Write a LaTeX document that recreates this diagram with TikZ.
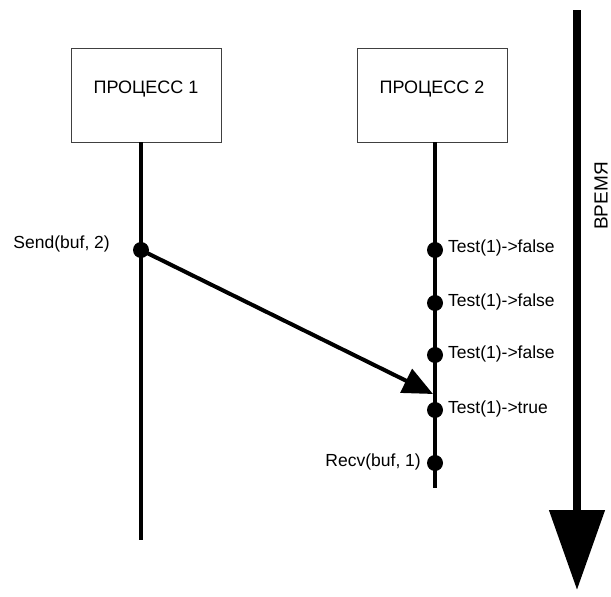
\documentclass[tikz,border=0pt]{standalone}
\usepackage{fontspec}
\setmainfont{Liberation Sans}
\usetikzlibrary{arrows.meta}
\tikzset{
  proc/.style={draw=black!75, line width=0.9pt, minimum width=150pt, minimum height=94pt,
    inner sep=0pt, text height=13pt, text depth=17pt, font=\fontsize{18}{21}\selectfont},
  life/.style={draw=black, line width=3.5pt},
  ev/.style={circle, fill=black, inner sep=0pt, minimum width=16pt, minimum height=16pt},
  msg/.style={draw=black, line width=4pt, -{Triangle[length=30pt,width=26pt]}},
  lab/.style={font=\fontsize{17.5}{20}\selectfont, inner sep=0pt},
  timeax/.style={draw=black, line width=8pt, -{Triangle[length=80pt,width=54pt]}},
}
\begin{document}
\begin{tikzpicture}[x=1pt,y=-1pt]
  \useasboundingbox (0,0) rectangle (611,597);

  % processes
  \node[proc] (p1) at (146,95) {ПРОЦЕСС 1};
  \node[proc] (p2) at (432,95) {ПРОЦЕСС 2};

  % lifelines
  \coordinate (e1) at (141,540);
  \coordinate (e2) at (435,488);
  \draw[life] (p1.south -| e1) -- (e1);
  \draw[life] (p2.south -| e2) -- (e2);

  % events
  \node[ev] (send) at (141,250) {};
  \node[ev] (t1) at (435,250) {};
  \node[ev] (t2) at (435,303) {};
  \node[ev] (t3) at (435,355) {};
  \node[ev] (t4) at (435,410) {};
  \node[ev] (recv) at (435,463) {};

  \node[lab, anchor=east] at (110,244) {Send(buf, 2)};
  \node[lab, anchor=west] at (448,248) {Test(1)->false};
  \node[lab, anchor=west] at (448,302) {Test(1)->false};
  \node[lab, anchor=west] at (448,354) {Test(1)->false};
  \node[lab, anchor=west] at (448,409) {Test(1)->true};
  \node[lab, anchor=east] at (421,462) {Recv(buf, 1)};

  % message
  \coordinate (hit) at (433,394);
  \draw[msg] (send.center) -- (hit);

  % time axis
  \coordinate (ta) at (577,10);
  \coordinate (tb) at (577,590);
  \draw[timeax] (ta) -- (tb);
  \node[lab, rotate=90, font=\fontsize{19}{22}\selectfont] at (601,196) {ВРЕМЯ};
\end{tikzpicture}
\end{document}
